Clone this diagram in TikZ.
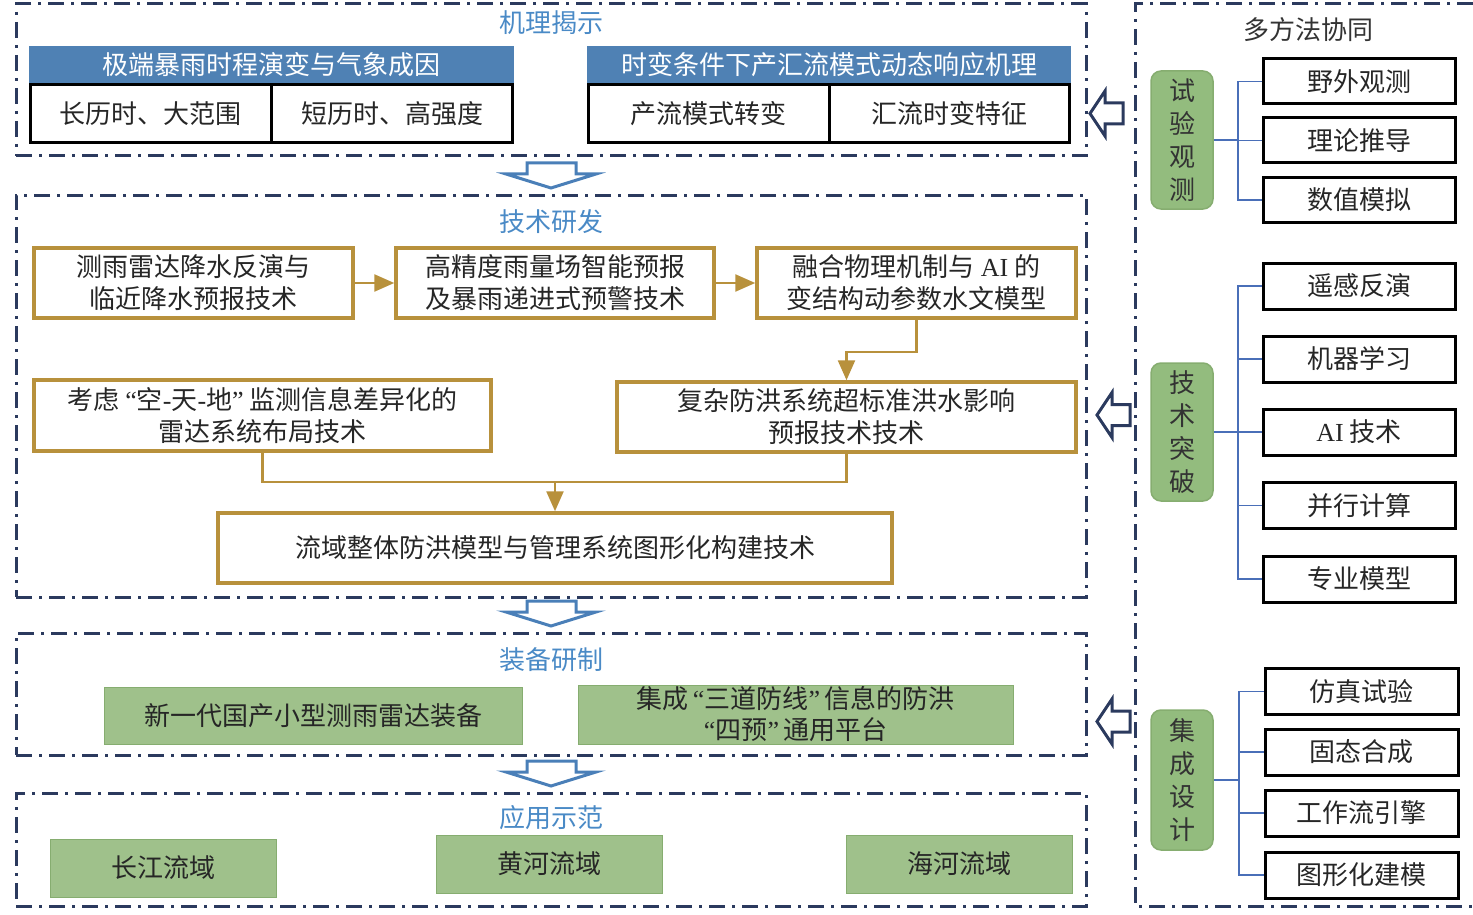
\documentclass[tikz,border=0pt]{standalone}
\usepackage{fontspec}
\setmainfont{Noto Sans CJK SC}
\newfontfamily\latinserif{Liberation Serif}
\newcommand{\lsf}[1]{{\latinserif #1}}
\usetikzlibrary{arrows.meta}
\definecolor{navy}{HTML}{2B3A5E}
\definecolor{ttlblue}{HTML}{4A8AC6}
\definecolor{hdrblue}{HTML}{4F81B4}
\definecolor{gold}{HTML}{B8913C}
\definecolor{gfill}{HTML}{9FC18B}
\definecolor{gdraw}{HTML}{86AD70}
\definecolor{vfill}{HTML}{93BC7E}
\definecolor{treeblue}{HTML}{4A6FB8}
\definecolor{arrblue}{HTML}{4A7FB8}
\definecolor{txt}{HTML}{262626}
\begin{document}
\begin{tikzpicture}[x=1pt,y=-1pt,
 every node/.style={font=\fontsize{26}{32}\selectfont, text=txt, inner sep=0pt},
 frm/.style={draw=navy, line width=3pt, dash pattern=on 16pt off 7pt on 3pt off 7pt},
 ttl/.style={text=ttlblue},
 hdrbox/.style={fill=hdrblue, text=white, minimum height=37pt},
 subbox/.style={draw=black, line width=3pt, minimum height=58pt, minimum width=241pt},
 techbox/.style={draw=gold, line width=3.5pt, minimum height=70pt, align=center},
 gconn/.style={draw=gold, line width=2.5pt},
 garrow/.style={gconn, -{Triangle[length=20pt,width=17pt]}},
 gbox/.style={fill=gfill, draw=gdraw, line width=1pt, align=center},
 vbox/.style={fill=vfill, draw=gdraw, line width=1.5pt, rounded corners=10pt, minimum width=62pt, align=center, text=black!80, font=\fontsize{26}{33}\selectfont},
 rbox/.style={draw=black, line width=3pt, minimum width=192pt, minimum height=45pt},
 treeln/.style={draw=treeblue, line width=1.8pt},
 blkarr/.style={draw=arrblue, line width=3pt, fill=white, line join=miter},
 leftarr/.style={draw=navy, line width=3pt, fill=white, line join=miter},
]
\useasboundingbox (0,0) rectangle (1473,915);

% frames
\node[frm, minimum width=1070pt, minimum height=152pt] (f1) at (551,80) {};
\node[frm, minimum width=1070pt, minimum height=402pt] (f2) at (551,396) {};
\node[frm, minimum width=1070pt, minimum height=122pt] (f3) at (551,694) {};
\node[frm, minimum width=1070pt, minimum height=113pt] (f4) at (551,849.5) {};
\draw[frm] (1473,4) -- (1135,4) -- (1135,906) -- (1473,906);

% titles
\node[ttl] (t1) at (551,23) {机理揭示};
\node[ttl] (t2) at (551,222) {技术研发};
\node[ttl] (t3) at (551,660) {装备研制};
\node[ttl] (t4) at (551,818) {应用示范};
\node[text=black!80] (t5) at (1308,30) {多方法协同};

% mechanism
\node[hdrbox, minimum width=485pt] (h1) at (271.5,64.5) {极端暴雨时程演变与气象成因};
\node[hdrbox, minimum width=484pt] (h2) at (829,64.5) {时变条件下产汇流模式动态响应机理};
\node[subbox] (s1) at (150.5,114) {长历时、大范围};
\node[subbox] (s2) at (392,114) {短历时、高强度};
\node[subbox] (s3) at (708.5,114) {产流模式转变};
\node[subbox, minimum width=240pt] (s4) at (949,114) {汇流时变特征};

% technology
\node[techbox, minimum width=319pt] (A) at (193.5,283) {测雨雷达降水反演与\\临近降水预报技术};
\node[techbox, minimum width=318pt] (B) at (555,283) {高精度雨量场智能预报\\及暴雨递进式预警技术};
\node[techbox, minimum width=319pt] (C) at (916.5,283) {融合物理机制与\hspace{6pt}\lsf{AI}\hspace{6pt}的\\变结构动参数水文模型};
\node[techbox, minimum width=457pt, minimum height=71pt] (E) at (262.5,415.5) {考虑\hspace{6pt}\lsf{“}空\lsf{-}天\lsf{-}地\lsf{”}\hspace{6pt}监测信息差异化的\\雷达系统布局技术};
\node[techbox, minimum width=459pt] (D) at (846.5,417) {复杂防洪系统超标准洪水影响\\预报技术技术};
\node[techbox, minimum width=674pt] (F) at (555,548) {流域整体防洪模型与管理系统图形化构建技术};
\draw[garrow] (A) -- (B);
\draw[garrow] (B) -- (C);
\draw[garrow] (C.south) -- ++(0,32) -| (D.north);
\coordinate (m) at (555,482);
\draw[gconn] (E.south) |- (m);
\draw[gconn] (D.south) |- (m);
\draw[garrow] (m) -- (F.north);

% equipment
\node[gbox, minimum width=418pt, minimum height=57pt] (G1) at (313,715.5) {新一代国产小型测雨雷达装备};
\node[gbox, minimum width=435pt, minimum height=59pt, font=\fontsize{26}{31}\selectfont] (G2) at (795.5,714.5) {集成\hspace{4pt}\lsf{“}三道防线\lsf{”}\hspace{4pt}信息的防洪\\\lsf{“}四预\lsf{”}\hspace{4pt}通用平台};

% application
\node[gbox, minimum width=226pt, minimum height=58pt] (H1) at (163,868) {长江流域};
\node[gbox, minimum width=226pt, minimum height=58pt] (H2) at (549,864) {黄河流域};
\node[gbox, minimum width=226pt, minimum height=58pt] (H3) at (959,864) {海河流域};

% right side group 1
\node[vbox, minimum height=138pt] (V1) at (1182,140) {试\\验\\观\\测};
\node[rbox] (R1) at (1359,81.5) {野外观测};
\node[rbox] (R2) at (1359,140.5) {理论推导};
\node[rbox] (R3) at (1359,200) {数值模拟};
\coordinate (j1) at (1238,140);
\draw[treeln] (V1.east) -- (j1);
\draw[treeln] (j1) |- (R1.west);
\draw[treeln] (j1) |- (R2.west);
\draw[treeln] (j1) |- (R3.west);

% right side group 2
\node[vbox, minimum height=138pt] (V2) at (1182,432) {技\\术\\突\\破};
\node[rbox, minimum height=46pt] (R4) at (1359,286) {遥感反演};
\node[rbox, minimum height=46pt] (R5) at (1359,359) {机器学习};
\node[rbox, minimum height=46pt] (R6) at (1359,432) {\lsf{AI}\hspace{6pt}技术};
\node[rbox, minimum height=46pt] (R7) at (1359,505.5) {并行计算};
\node[rbox, minimum height=46pt] (R8) at (1359,579) {专业模型};
\coordinate (j2) at (1238,432);
\draw[treeln] (V2.east) -- (j2);
\draw[treeln] (j2) |- (R4.west);
\draw[treeln] (j2) |- (R5.west);
\draw[treeln] (j2) |- (R6.west);
\draw[treeln] (j2) |- (R7.west);
\draw[treeln] (j2) |- (R8.west);

% right side group 3
\node[vbox, minimum height=140pt] (V3) at (1182,780) {集\\成\\设\\计};
\node[rbox, minimum width=193pt, minimum height=46pt] (R9) at (1361.5,691.5) {仿真试验};
\node[rbox, minimum width=193pt, minimum height=46pt] (R10) at (1361.5,752) {固态合成};
\node[rbox, minimum width=193pt, minimum height=46pt] (R11) at (1361.5,813) {工作流引擎};
\node[rbox, minimum width=193pt, minimum height=46pt] (R12) at (1361.5,875) {图形化建模};
\coordinate (j3) at (1239,780);
\draw[treeln] (V3.east) -- (j3);
\draw[treeln] (j3) |- (R9.west);
\draw[treeln] (j3) |- (R10.west);
\draw[treeln] (j3) |- (R11.west);
\draw[treeln] (j3) |- (R12.west);

% block arrows down
\draw[blkarr] (527,163) -- (576,163) -- (576,174) -- (596,174) -- (551,188) -- (506,174) -- (527,174) -- cycle;
\draw[blkarr] (527,601) -- (576,601) -- (576,612) -- (596,612) -- (551,626) -- (506,612) -- (527,612) -- cycle;
\draw[blkarr] (527,761) -- (576,761) -- (576,772) -- (596,772) -- (551,786) -- (506,772) -- (527,772) -- cycle;

% left arrows
\draw[leftarr] (1090,113.5) -- (1105,91) -- (1105,103) -- (1123,103) -- (1123,124) -- (1105,124) -- (1105,136) -- cycle;
\draw[leftarr] (1097,415) -- (1112,392.5) -- (1112,404.5) -- (1130,404.5) -- (1130,425.5) -- (1112,425.5) -- (1112,437.5) -- cycle;
\draw[leftarr] (1097,721.5) -- (1112,699) -- (1112,711) -- (1130,711) -- (1130,732) -- (1112,732) -- (1112,744) -- cycle;
\end{tikzpicture}
\end{document}
